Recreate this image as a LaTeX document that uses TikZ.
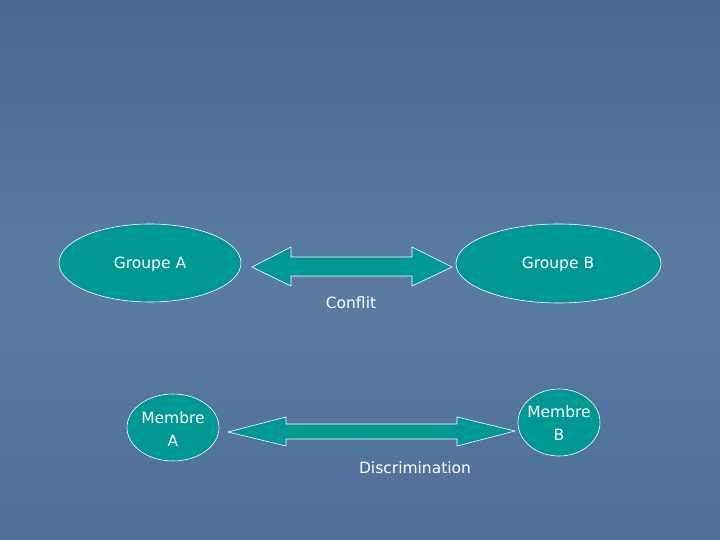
\documentclass[tikz,border=0pt]{standalone}
\usepackage{fontspec}
\setmainfont{DejaVu Sans}
\usetikzlibrary{shapes.geometric}
\definecolor{bgtop}{RGB}{70,104,144}
\definecolor{bgmid}{RGB}{90,124,163}
\definecolor{bgbot}{RGB}{78,112,152}
\definecolor{tealfill}{RGB}{0,152,146}
\tikzset{
  grp/.style={ellipse,draw=white,line width=0.6pt,fill=tealfill,inner sep=0pt},
  blockarrow/.style={draw=white,line width=0.6pt,fill=tealfill},
  lbl/.style={text=white,font=\fontsize{15.5}{22.5}\selectfont,inner sep=0pt}
}
\begin{document}
\begin{tikzpicture}[x=1pt,y=-1pt]
\shade[top color=bgtop,bottom color=bgbot,middle color=bgmid] (0,0) rectangle (720,540);
\useasboundingbox (0,0) rectangle (720,540);
% Groups
\node[grp,minimum width=182pt,minimum height=78pt] (ga) at (150,263) {};
\node[lbl] (gatext) at (150,264) {Groupe A};
\node[grp,minimum width=205pt,minimum height=79pt] (gb) at (558.5,263.5) {};
\node[lbl] (gbtext) at (558,264) {Groupe B};
% Members
\node[grp,minimum width=92pt,minimum height=67pt] (ma) at (173,427.5) {};
\node[lbl,align=center] (matext) at (173,429) {Membre\\A};
\node[grp,minimum width=82pt,minimum height=67pt] (mb) at (559,422.5) {};
\node[lbl,align=center] (mbtext) at (559,423) {Membre\\B};
% Arrow 1 (Conflit)
\draw[blockarrow] (252,267) -- (291,247) -- (291,257) -- (412,257) -- (412,247) -- (452,267)
  -- (412,286) -- (412,276) -- (291,276) -- (291,286) -- cycle;
\node[lbl] (conflit) at (351,303) {Conflit};
% Arrow 2 (Discrimination)
\draw[blockarrow] (228,432) -- (286,417) -- (286,424) -- (457,424) -- (457,417) -- (515,431)
  -- (457,446) -- (457,439) -- (286,439) -- (286,446) -- cycle;
\node[lbl] (discr) at (415,468) {Discrimination};
\end{tikzpicture}
\end{document}
